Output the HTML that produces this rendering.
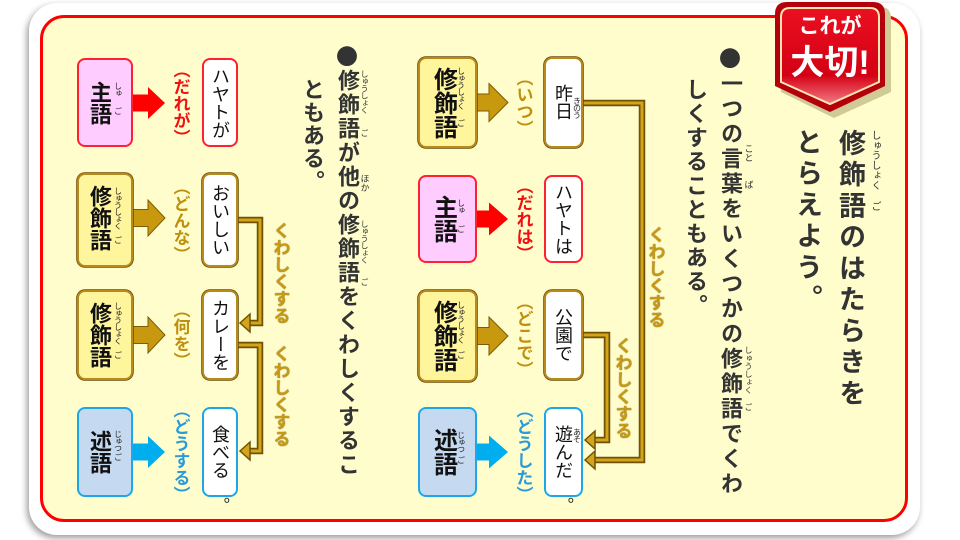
<!DOCTYPE html>
<html><head><meta charset="utf-8">
<style>
*{margin:0;padding:0;box-sizing:border-box}
html,body{width:960px;height:540px;overflow:hidden;background:#fff}
body{position:relative;font-family:"Liberation Sans","Noto Sans CJK JP",sans-serif}
.card{position:absolute;left:29px;top:3px;width:891px;height:532px;border-radius:28px;background:#fff;box-shadow:-2px 3px 7px rgba(0,0,0,.4)}
.inner{position:absolute;left:40px;top:15px;width:868px;height:507px;border:3px solid #f00;border-radius:24px;background:#fffdcc}
.v{position:absolute;writing-mode:vertical-rl;white-space:nowrap;line-height:1}
.b{font-weight:700}
.dk{color:#333}
.dot{font-family:"Noto Sans CJK JP",sans-serif}
.box{position:absolute;border-radius:8px;border:2px solid}
.yl{background:#fff59d;border-color:#b88a1a;box-shadow:0 0 0 .8px #6b5010}
.pk{background:#ffccff;border-color:#ff2030}
.bl{background:#c5d9f1;border-color:#1ca8e8}
.wg{background:#fff;border-color:#b88a1a;box-shadow:0 0 0 .8px #6b5010}
.wr{background:#fff;border-color:#ff2030}
.wc{background:#fff;border-color:#1ca8e8}
.bt{font-size:24px;font-weight:700;color:#111}
.lt{font-size:22px;font-weight:700;color:#111}
.wt{font-size:18px;color:#111}
.rb{font-size:8px;color:#222;letter-spacing:-1px}
.lab{font-size:17px;font-weight:700}
.gd{color:#bf9010}
.rd{color:#f01010}
.cy{color:#2a9ad8}
.kw{font-size:17px;font-weight:700;color:#c89a12;text-shadow:0 0 1px #5a4000}
</style></head><body>
<div class="card"></div>
<div class="inner"></div>

<svg width="960" height="540" style="position:absolute;left:0;top:0">
 <g fill="none" stroke-linejoin="miter">
  <g stroke="#6e5208" stroke-width="6.5">
   <polyline points="583,103 642,103 642,460 594,460"/>
   <polyline points="583,335 607,335 607,440 594,440"/>
   <polyline points="238,220 260,220 260,323 249,323"/>
   <polyline points="238,345 260,345 260,451 249,451"/>
  </g>
  <g stroke="#d6a418" stroke-width="3">
   <polyline points="582,103 642,103 642,460 594,460"/>
   <polyline points="582,335 607,335 607,440 594,440"/>
   <polyline points="237,220 260,220 260,323 249,323"/>
   <polyline points="237,345 260,345 260,451 249,451"/>
  </g>
 </g>
 <g fill="#d6a418" stroke="#6e5208" stroke-width="1.5">
  <polygon points="585,460 595,451 595,469"/>
  <polygon points="585,440 595,431 595,449"/>
  <polygon points="240,323 250,314 250,332"/>
  <polygon points="240,451 250,442 250,460"/>
 </g>
 <polygon points="477,94 489,94 489,83.5 508,102.5 489,121.5 489,111 477,111" fill="#c8980e" stroke="#7a5c08" stroke-width="1"/>
 <polygon points="477,210.5 489,210.5 489,202.5 508,219 489,235.5 489,227.5 477,227.5" fill="#ff0000"/>
 <polygon points="477,327.5 489,327.5 489,317 508,336 489,355 489,344.5 477,344.5" fill="#c8980e" stroke="#7a5c08" stroke-width="1"/>
 <polygon points="477,443.5 489,443.5 489,435.5 508,452 489,468.5 489,460.5 477,460.5" fill="#00aeef"/>
 <polygon points="133,94.5 148,94.5 148,87 165,103 148,119 148,111.5 133,111.5" fill="#ff0000"/>
 <polygon points="133,209.5 148,209.5 148,200 165,218 148,236 148,226.5 133,226.5" fill="#c8980e" stroke="#7a5c08" stroke-width="1"/>
 <polygon points="133,326.5 148,326.5 148,317 165,335 148,353 148,343.5 133,343.5" fill="#c8980e" stroke="#7a5c08" stroke-width="1"/>
 <polygon points="133,443.5 148,443.5 148,436 165,452 148,468 148,460.5 133,460.5" fill="#00aeef"/>
</svg>

<div class="box yl" style="left:418px;top:57px;width:59px;height:91px"></div>
<div class="box pk" style="left:418px;top:175px;width:59px;height:88px"></div>
<div class="box yl" style="left:418px;top:290px;width:59px;height:92px"></div>
<div class="box bl" style="left:418px;top:407px;width:59px;height:90px"></div>
<div class="box wg" style="left:544px;top:57px;width:39px;height:91px"></div>
<div class="box wr" style="left:544px;top:175px;width:39px;height:88px"></div>
<div class="box wg" style="left:544px;top:290px;width:39px;height:90px"></div>
<div class="box wc" style="left:544px;top:407px;width:39px;height:90px"></div>
<div class="box pk" style="left:77px;top:58px;width:56px;height:89px"></div>
<div class="box yl" style="left:77px;top:173px;width:56px;height:94px"></div>
<div class="box yl" style="left:77px;top:290px;width:56px;height:90px"></div>
<div class="box bl" style="left:77px;top:407px;width:56px;height:90px"></div>
<div class="box wr" style="left:202px;top:58px;width:36px;height:89px"></div>
<div class="box wg" style="left:202px;top:173px;width:36px;height:94px"></div>
<div class="box wg" style="left:202px;top:290px;width:36px;height:90px"></div>
<div class="box wc" style="left:202px;top:407px;width:36px;height:90px"></div>

<div class="v bt" style="left:430.5px;top:66.5px">修飾語</div>
<div class="v bt" style="left:430.5px;top:195px">主語</div>
<div class="v bt" style="left:430.5px;top:300px">修飾語</div>
<div class="v bt" style="left:430.5px;top:428px">述語</div>
<div class="v rb" style="left:456.5px;top:67px">しゅうしょく</div>
<div class="v rb" style="left:456.5px;top:119px">ご</div>
<div class="v rb" style="left:456.5px;top:199px">しゅ</div>
<div class="v rb" style="left:456.5px;top:225px">ご</div>
<div class="v rb" style="left:456.5px;top:301px">しゅうしょく</div>
<div class="v rb" style="left:456.5px;top:351px">ご</div>
<div class="v rb" style="left:456.5px;top:431px">じゅつ</div>
<div class="v rb" style="left:456.5px;top:456px">ご</div>

<div class="v wt" style="left:554px;top:84px">昨日</div>
<div class="v rb" style="left:572.5px;top:97px">きのう</div>
<div class="v wt" style="left:554px;top:183px">ハヤトは</div>
<div class="v wt" style="left:554px;top:308px">公園で</div>
<div class="v wt" style="left:554px;top:425px">遊んだ</div>
<div class="v rb" style="left:572.5px;top:428px">あそ</div>
<div class="v" style="left:555px;top:497px;font-size:16px;color:#111">。</div>

<div class="v lab gd" style="left:514.5px;top:68.5px">（いつ）</div>
<div class="v lab rd" style="left:514.5px;top:176.5px">（だれは）</div>
<div class="v lab gd" style="left:514.5px;top:292.5px">（どこで）</div>
<div class="v lab cy" style="left:514.5px;top:401px">（どうした）</div>

<div class="v kw" style="left:646.5px;top:226px">くわしくする</div>
<div class="v kw" style="left:613.5px;top:337px">くわしくする</div>

<div class="v lt" style="left:88px;top:80.5px">主語</div>
<div class="v lt" style="left:88px;top:185px">修飾語</div>
<div class="v lt" style="left:88px;top:302px">修飾語</div>
<div class="v lt" style="left:88px;top:430px">述語</div>
<div class="v rb" style="left:113.5px;top:82px">しゅ</div>
<div class="v rb" style="left:113.5px;top:107px">ご</div>
<div class="v rb" style="left:113.5px;top:187px">しゅうしょく</div>
<div class="v rb" style="left:113.5px;top:236px">ご</div>
<div class="v rb" style="left:113.5px;top:302px">しゅうしょく</div>
<div class="v rb" style="left:113.5px;top:351px">ご</div>
<div class="v rb" style="left:113.5px;top:430px">じゅつ</div>
<div class="v rb" style="left:113.5px;top:453px">ご</div>

<div class="v wt" style="left:211px;top:67px">ハヤトが</div>
<div class="v wt" style="left:211px;top:184px">おいしい</div>
<div class="v wt" style="left:211px;top:299px">カレーを</div>
<div class="v wt" style="left:211px;top:425px">食べる</div>
<div class="v" style="left:211px;top:497px;font-size:16px;color:#111">。</div>

<div class="v lab rd" style="left:171.5px;top:60.5px">（だれが）</div>
<div class="v lab gd" style="left:171.5px;top:177.5px">（どんな）</div>
<div class="v lab gd" style="left:171.5px;top:301px">（何を）</div>
<div class="v lab cy" style="left:171.5px;top:401px">（どうする）</div>

<div class="v kw" style="left:271.5px;top:222px">くわしくする</div>
<div class="v kw" style="left:271.5px;top:345px">くわしくする</div>

<div class="v b dk" style="left:336px;top:45px;font-size:22px;letter-spacing:2px"><span class="dot">●</span>修飾語が他の修飾語をくわしくするこ</div>
<div class="v b dk" style="left:301px;top:78px;font-size:22px;letter-spacing:1px">ともある。</div>
<div class="v dk" style="left:360px;top:70px;font-size:8px;letter-spacing:-0.8px">しゅうしょく</div>
<div class="v dk" style="left:360px;top:129px;font-size:8px">ご</div>
<div class="v dk" style="left:359.5px;top:174px;font-size:9px">ほか</div>
<div class="v dk" style="left:360px;top:220px;font-size:8px;letter-spacing:-0.8px">しゅうしょく</div>
<div class="v dk" style="left:360px;top:278px;font-size:8px">ご</div>

<div class="v b dk" style="left:719px;top:47px;font-size:22px;letter-spacing:3px"><span class="dot">●</span>一つの言葉をいくつかの修飾語でくわ</div>
<div class="v b dk" style="left:684px;top:78px;font-size:22px;letter-spacing:2px">しくすることもある。</div>
<div class="v dk" style="left:743.5px;top:144px;font-size:9px">こと</div>
<div class="v dk" style="left:743.5px;top:180px;font-size:9px">ば</div>
<div class="v dk" style="left:744px;top:346px;font-size:8px">しゅうしょく</div>
<div class="v dk" style="left:744px;top:403px;font-size:8px">ご</div>

<div class="v b dk" style="left:836px;top:129px;font-size:27px;letter-spacing:4.25px">修飾語のはたらきを</div>
<div class="v b dk" style="left:793px;top:128px;font-size:27px;letter-spacing:4.25px">とらえよう。</div>
<div class="v dk" style="left:869px;top:130px;font-size:10px">しゅうしょく</div>
<div class="v dk" style="left:869px;top:201px;font-size:10px">ご</div>

<svg width="960" height="540" style="position:absolute;left:0;top:0">
 <defs>
  <linearGradient id="rg" x1="0" y1="0" x2="0" y2="1">
   <stop offset="0" stop-color="#ea1020"/>
   <stop offset="0.7" stop-color="#d40014"/>
   <stop offset="1" stop-color="#f27a86"/>
  </linearGradient>
 </defs>
 <path d="M791,7 H881 Q891,7 891,19 V92 L834,118 L781,92 V19 Q781,7 791,7Z" fill="#cfca96"/>
 <path d="M787,2 H873 Q885,2 885,14 V86 L830,112 L775,86 V14 Q775,2 787,2Z" fill="#b4000c"/>
 <path d="M790,8 H870 Q879,8 879,17 V82 L830,104 L781,82 V17 Q781,8 790,8Z" fill="url(#rg)" stroke="#ffe6b0" stroke-width="2"/>
</svg>
<div style="position:absolute;left:775px;width:110px;top:16px;text-align:center;font-size:21px;font-weight:700;color:#fff;line-height:1">これが</div>
<div style="position:absolute;left:775px;width:110px;top:46px;text-align:center;font-size:34px;font-weight:700;color:#fff;line-height:1">大切!</div>
</body></html>
